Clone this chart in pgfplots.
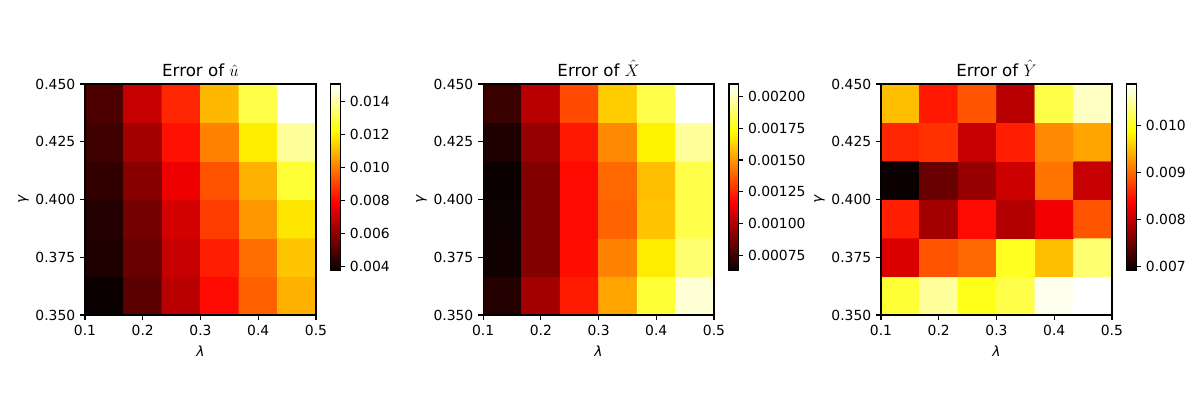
\documentclass[border=0pt]{standalone}
\usepackage{fontspec}
\setmainfont{DejaVu Sans}
\usepackage{pgfplots}
\pgfplotsset{compat=1.18}
\pgfplotsset{
  colormap={hot}{rgb255(0)=(10,0,0) rgb255(365)=(255,0,0) rgb255(746)=(255,255,0) rgb255(1000)=(255,255,255)},
  heat/.style={
    scale only axis, width=166.3pt, height=166.3pt,
    anchor=south west,
    xmin=0.1, xmax=0.5, ymin=0.35, ymax=0.45,
    xtick={0.1,0.2,0.3,0.4,0.5},
    ytick={0.35,0.375,0.4,0.425,0.45},
    tick align=outside, tick pos=left,
    major tick length=3.5pt,
    every tick/.style={black, line width=0.8pt},
    axis line style={line width=0.8pt},
    axis on top,
    font=\fontsize{10pt}{12pt}\selectfont,
    title style={font=\fontsize{12pt}{14pt}\selectfont, yshift=-4pt},
    scaled ticks=false,
    /pgf/number format/assume math mode=true,
    xticklabel style={/pgf/number format/.cd, fixed, fixed zerofill, precision=1},
    yticklabel style={/pgf/number format/.cd, fixed, fixed zerofill, precision=3},
    xlabel={\textit{λ}}, ylabel={\textit{γ}},
    xlabel style={yshift=-1pt},
    ylabel style={yshift=-2pt},
    colormap name=hot,
    colorbar,
  },
  cbar/.style={
    at={(parent axis.north east)}, anchor=north west, xshift=2.2pt,
    width=6.7pt, height=134pt,
    tick align=outside, major tick length=3.5pt, ytick pos=right,
    every tick/.style={black, line width=0.8pt},
    axis line style={line width=0.8pt},
    scaled ticks=false,
    /pgf/number format/assume math mode=true,
    font=\fontsize{10pt}{12pt}\selectfont,
  },
}
\begin{document}
\begin{tikzpicture}
\path[use as bounding box] (0,0) rectangle (864pt,288pt);

% Error of u-hat
\begin{axis}[heat, at={(61.2pt,61.2pt)},
  title={Error of $\hat{u}$},
  point meta min=0.00376, point meta max=0.01508,
  colorbar style={cbar,
    ytick={0.004,0.006,0.008,0.010,0.012,0.014},
    yticklabel style={/pgf/number format/.cd, fixed, fixed zerofill, precision=3}}]
\addplot[matrix plot*, mesh/cols=6, mesh/rows=6, point meta=explicit] table[meta=c] {
x y c
0.13333 0.35833 0.00376
0.20000 0.35833 0.00511
0.26667 0.35833 0.00670
0.33333 0.35833 0.00806
0.40000 0.35833 0.00953
0.46667 0.35833 0.01089
0.13333 0.37500 0.00410
0.20000 0.37500 0.00534
0.26667 0.37500 0.00693
0.33333 0.37500 0.00840
0.40000 0.37500 0.00976
0.46667 0.37500 0.01123
0.13333 0.39167 0.00421
0.20000 0.39167 0.00557
0.26667 0.39167 0.00715
0.33333 0.39167 0.00891
0.40000 0.39167 0.01044
0.46667 0.39167 0.01179
0.13333 0.40833 0.00444
0.20000 0.40833 0.00591
0.26667 0.40833 0.00761
0.33333 0.40833 0.00930
0.40000 0.40833 0.01089
0.46667 0.40833 0.01281
0.13333 0.42500 0.00466
0.20000 0.42500 0.00636
0.26667 0.42500 0.00817
0.33333 0.42500 0.01010
0.40000 0.42500 0.01191
0.46667 0.42500 0.01394
0.13333 0.44167 0.00489
0.20000 0.44167 0.00693
0.26667 0.44167 0.00851
0.33333 0.44167 0.01100
0.40000 0.44167 0.01304
0.46667 0.44167 0.01508
};
\end{axis}

% Error of X-hat
\begin{axis}[heat, at={(347.8pt,61.2pt)},
  title={Error of $\hat{X}$},
  point meta min=0.000634, point meta max=0.002097,
  colorbar style={cbar,
    ytick={0.00075,0.001,0.00125,0.0015,0.00175,0.002},
    yticklabel style={/pgf/number format/.cd, fixed, fixed zerofill, precision=5}}]
\addplot[matrix plot*, mesh/cols=6, mesh/rows=6, point meta=explicit] table[meta=c] {
x y c
0.13333 0.35833 0.000693
0.20000 0.35833 0.000970
0.26667 0.35833 0.001227
0.33333 0.35833 0.001526
0.40000 0.35833 0.001804
0.46667 0.35833 0.002038
0.13333 0.37500 0.000649
0.20000 0.37500 0.000897
0.26667 0.37500 0.001197
0.33333 0.37500 0.001453
0.40000 0.37500 0.001687
0.46667 0.37500 0.001892
0.13333 0.39167 0.000641
0.20000 0.39167 0.000897
0.26667 0.39167 0.001190
0.33333 0.39167 0.001387
0.40000 0.39167 0.001600
0.46667 0.39167 0.001834
0.13333 0.40833 0.000634
0.20000 0.40833 0.000897
0.26667 0.40833 0.001190
0.33333 0.40833 0.001395
0.40000 0.40833 0.001585
0.46667 0.40833 0.001834
0.13333 0.42500 0.000678
0.20000 0.42500 0.000941
0.26667 0.42500 0.001219
0.33333 0.42500 0.001468
0.40000 0.42500 0.001702
0.46667 0.42500 0.001951
0.13333 0.44167 0.000736
0.20000 0.44167 0.001014
0.26667 0.44167 0.001329
0.33333 0.44167 0.001614
0.40000 0.44167 0.001834
0.46667 0.44167 0.002097
};
\end{axis}

% Error of Y-hat
\begin{axis}[heat, at={(634.3pt,61.2pt)},
  title={Error of $\hat{Y}$},
  point meta min=0.006928, point meta max=0.010870,
  colorbar style={cbar,
    ytick={0.007,0.008,0.009,0.010},
    yticklabel style={/pgf/number format/.cd, fixed, fixed zerofill, precision=3}}]
\addplot[matrix plot*, mesh/cols=6, mesh/rows=6, point meta=explicit] table[meta=c] {
x y c
0.13333 0.35833 0.010082
0.20000 0.35833 0.010476
0.26667 0.35833 0.009963
0.33333 0.35833 0.010160
0.40000 0.35833 0.010811
0.46667 0.35833 0.010870
0.13333 0.37500 0.008150
0.20000 0.37500 0.008860
0.26667 0.37500 0.008978
0.33333 0.37500 0.010003
0.40000 0.37500 0.009490
0.46667 0.37500 0.010318
0.13333 0.39167 0.008544
0.20000 0.39167 0.007835
0.26667 0.39167 0.008426
0.33333 0.39167 0.007914
0.40000 0.39167 0.008288
0.46667 0.39167 0.008860
0.13333 0.40833 0.006928
0.20000 0.40833 0.007480
0.26667 0.40833 0.007756
0.33333 0.40833 0.008071
0.40000 0.40833 0.009057
0.46667 0.40833 0.008032
0.13333 0.42500 0.008584
0.20000 0.42500 0.008662
0.26667 0.42500 0.008032
0.33333 0.42500 0.008544
0.40000 0.42500 0.009175
0.46667 0.42500 0.009333
0.13333 0.44167 0.009490
0.20000 0.44167 0.008505
0.26667 0.44167 0.008860
0.33333 0.44167 0.007953
0.40000 0.44167 0.010160
0.46667 0.44167 0.010633
};
\end{axis}
\end{tikzpicture}
\end{document}
